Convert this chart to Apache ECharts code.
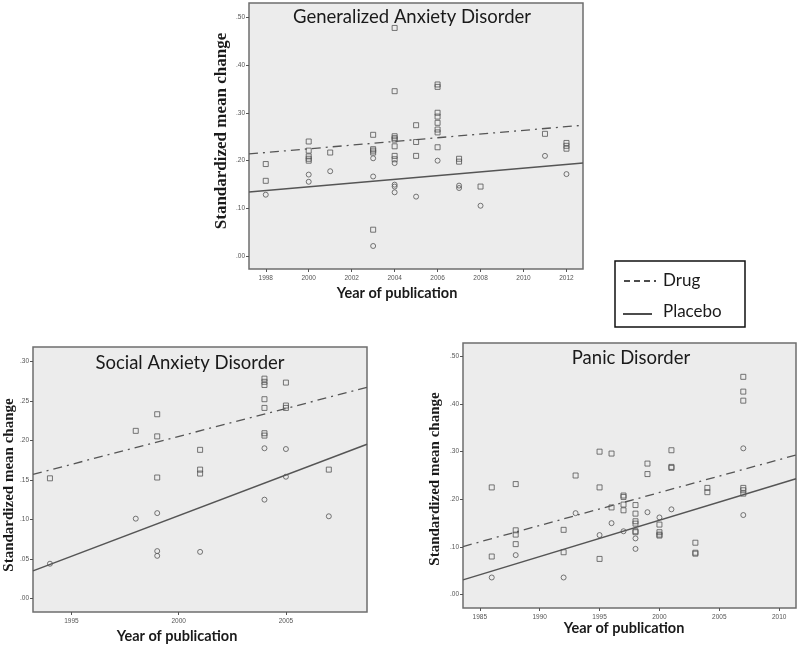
<!DOCTYPE html>
<html>
<head>
<meta charset="utf-8">
<script src="https://cdn.jsdelivr.net/npm/echarts@6/dist/echarts.min.js"></script>
<style>html,body{margin:0;padding:0;background:#fff}#c{width:800px;height:646px}</style>
</head>
<body>
<div id="c"></div>
<script>
// ---------- DATA ----------
const titles = ['Generalized Anxiety Disorder', 'Social Anxiety Disorder', 'Panic Disorder'];
const yAxisTitle = 'Standardized mean change';
const xAxisTitle = 'Year of publication';
const legendLabels = ['Drug', 'Placebo'];

// Generalized Anxiety Disorder
const gadDrug = [
  [1998,0.193],[1998,0.158],
  [2000,0.240],[2000,0.221],[2000,0.209],[2000,0.204],[2000,0.200],
  [2001,0.217],
  [2003,0.254],[2003,0.224],[2003,0.221],[2003,0.217],[2003,0.056],
  [2004,0.477],[2004,0.345],[2004,0.251],[2004,0.247],[2004,0.244],[2004,0.230],[2004,0.210],[2004,0.203],
  [2005,0.274],[2005,0.239],[2005,0.210],
  [2006,0.359],[2006,0.354],[2006,0.300],[2006,0.292],[2006,0.279],[2006,0.265],[2006,0.259],[2006,0.228],
  [2007,0.204],[2007,0.198],
  [2008,0.146],
  [2011,0.256],
  [2012,0.237],[2012,0.231],[2012,0.225]
];
const gadPlacebo = [
  [1998,0.129],
  [2000,0.171],[2000,0.156],
  [2001,0.178],
  [2003,0.205],[2003,0.167],[2003,0.022],
  [2004,0.195],[2004,0.150],[2004,0.146],[2004,0.134],
  [2005,0.125],
  [2006,0.200],
  [2007,0.148],[2007,0.143],
  [2008,0.106],
  [2011,0.210],
  [2012,0.172]
];
const gadDrugFit = [[1997.22,0.214],[2012.77,0.274]];
const gadPlaceboFit = [[1997.22,0.1345],[2012.77,0.195]];
const gadXTicks = [1998,2000,2002,2004,2006,2008,2010,2012];
const gadYTicks = [0,0.1,0.2,0.3,0.4,0.5];

// Social Anxiety Disorder
const sadDrug = [
  [1994,0.152],
  [1998,0.212],
  [1999,0.233],[1999,0.205],[1999,0.153],
  [2001,0.188],[2001,0.163],[2001,0.158],
  [2004,0.278],[2004,0.274],[2004,0.270],[2004,0.252],[2004,0.241],[2004,0.209],[2004,0.206],
  [2005,0.273],[2005,0.244],[2005,0.241],
  [2007,0.163]
];
const sadPlacebo = [
  [1994,0.044],
  [1998,0.101],
  [1999,0.108],[1999,0.060],[1999,0.054],
  [2001,0.059],
  [2004,0.190],[2004,0.125],
  [2005,0.189],[2005,0.154],
  [2007,0.104]
];
const sadDrugFit = [[1993.21,0.157],[2008.78,0.267]];
const sadPlaceboFit = [[1993.21,0.035],[2008.78,0.195]];
const sadXTicks = [1995,2000,2005];
const sadYTicks = [0,0.05,0.1,0.15,0.2,0.25,0.3];

// Panic Disorder
const pdDrug = [
  [1986,0.225],[1986,0.080],
  [1988,0.232],[1988,0.135],[1988,0.126],[1988,0.106],
  [1992,0.136],[1992,0.089],
  [1993,0.250],
  [1995,0.300],[1995,0.225],[1995,0.075],
  [1996,0.296],[1996,0.183],
  [1997,0.208],[1997,0.205],[1997,0.189],[1997,0.177],
  [1998,0.188],[1998,0.170],[1998,0.154],[1998,0.149],[1998,0.133],[1998,0.131],
  [1999,0.275],[1999,0.253],
  [2000,0.147],[2000,0.131],[2000,0.126],[2000,0.124],
  [2001,0.303],[2001,0.268],[2001,0.266],
  [2003,0.109],[2003,0.088],[2003,0.086],
  [2004,0.224],[2004,0.215],
  [2007,0.457],[2007,0.426],[2007,0.407],[2007,0.224],[2007,0.219],[2007,0.212]
];
const pdPlacebo = [
  [1986,0.036],
  [1988,0.083],
  [1992,0.036],
  [1993,0.171],
  [1995,0.125],
  [1996,0.150],
  [1997,0.133],
  [1998,0.118],[1998,0.096],
  [1999,0.173],
  [2000,0.162],
  [2001,0.179],
  [2007,0.307],[2007,0.167]
];
const pdDrugFit = [[1983.6,0.101],[2011.4,0.293]];
const pdPlaceboFit = [[1983.6,0.031],[2011.4,0.243]];
const pdXTicks = [1985,1990,1995,2000,2005,2010];
const pdYTicks = [0,0.1,0.2,0.3,0.4,0.5];

// ---------- CHART ----------
const panels = [
  {grid:{left:249,top:3,width:334,height:266}, x:[1997.22,2012.77], y:[-0.026,0.529], xt:gadXTicks, yt:gadYTicks, drug:gadDrug, plac:gadPlacebo, df:gadDrugFit, pf:gadPlaceboFit},
  {grid:{left:33,top:347,width:334,height:265}, x:[1993.21,2008.78], y:[-0.017,0.318], xt:sadXTicks, yt:sadYTicks, drug:sadDrug, plac:sadPlacebo, df:sadDrugFit, pf:sadPlaceboFit},
  {grid:{left:463,top:343,width:333,height:265}, x:[1983.6,2011.4], y:[-0.028,0.528], xt:pdXTicks, yt:pdYTicks, drug:pdDrug, plac:pdPlacebo, df:pdDrugFit, pf:pdPlaceboFit}
];

const fmtY = v => { const s = (Math.round(v*100)/100).toFixed(2); return s.replace(/^0/, ''); };
const tickStyle = {color:'#555', fontSize:6.5, fontFamily:'Liberation Sans'};

const grids = [], xAxes = [], yAxes = [], series = [];
panels.forEach((p, i) => {
  grids.push(Object.assign({show:true, backgroundColor:'#ececec', borderColor:'#6e6e6e', borderWidth:1.5, containLabel:false}, p.grid));
  xAxes.push({type:'value', gridIndex:i, position:'bottom', min:p.x[0], max:p.x[1], splitLine:{show:false},
    axisLine:{show:false, onZero:false},
    axisTick:{show:true, length:3, lineStyle:{color:'#555'}, customValues:p.xt},
    axisLabel:{show:true, margin:6, customValues:p.xt, formatter:v=>String(Math.round(v)), ...tickStyle}});
  yAxes.push({type:'value', gridIndex:i, position:'left', min:p.y[0], max:p.y[1], splitLine:{show:false},
    axisLine:{show:false, onZero:false},
    axisTick:{show:true, length:3, lineStyle:{color:'#555'}, customValues:p.yt},
    axisLabel:{show:true, margin:4, customValues:p.yt, formatter:fmtY, ...tickStyle}});
  const sym = {color:'rgba(0,0,0,0)', borderColor:'#555', borderWidth:1};
  series.push({type:'scatter', xAxisIndex:i, yAxisIndex:i, data:p.drug, symbol:'rect', symbolSize:5, itemStyle:sym, silent:true, z:3});
  series.push({type:'scatter', xAxisIndex:i, yAxisIndex:i, data:p.plac, symbol:'circle', symbolSize:5, itemStyle:sym, silent:true, z:3});
  series.push({type:'line', xAxisIndex:i, yAxisIndex:i, data:p.df, symbol:'none', silent:true, z:2,
    lineStyle:{color:'#555', width:1.3, type:[9,5,2,5]}});
  series.push({type:'line', xAxisIndex:i, yAxisIndex:i, data:p.pf, symbol:'none', silent:true, z:2,
    lineStyle:{color:'#555', width:1.5, type:'solid'}});
});

const titleFont = {fontFamily:'Lato', fontSize:18.5, fill:'#1a1a1a'};
const yNameFont = {fontFamily:'Liberation Serif', fontWeight:'bold', fill:'#1a1a1a'};
const xNameFont = {fontFamily:'Lato', fontWeight:'bold', fontSize:14.5, fill:'#1a1a1a'};

const graphic = [
  {type:'text', x:412, y:17, style:Object.assign({text:titles[0], align:'center', verticalAlign:'middle'}, titleFont), z:10},
  {type:'text', x:190, y:363, style:Object.assign({text:titles[1], align:'center', verticalAlign:'middle'}, titleFont), z:10},
  {type:'text', x:631, y:358, style:Object.assign({text:titles[2], align:'center', verticalAlign:'middle'}, titleFont), z:10},
  {type:'text', x:222, y:131, rotation:Math.PI/2, style:Object.assign({text:yAxisTitle, align:'center', verticalAlign:'middle', fontSize:17}, yNameFont)},
  {type:'text', x:9, y:485, rotation:Math.PI/2, style:Object.assign({text:yAxisTitle, align:'center', verticalAlign:'middle', fontSize:15}, yNameFont)},
  {type:'text', x:435, y:479, rotation:Math.PI/2, style:Object.assign({text:yAxisTitle, align:'center', verticalAlign:'middle', fontSize:15}, yNameFont)},
  {type:'text', x:397, y:293, style:Object.assign({text:xAxisTitle, align:'center', verticalAlign:'middle'}, xNameFont)},
  {type:'text', x:177, y:636, style:Object.assign({text:xAxisTitle, align:'center', verticalAlign:'middle'}, xNameFont)},
  {type:'text', x:624, y:628, style:Object.assign({text:xAxisTitle, align:'center', verticalAlign:'middle'}, xNameFont)},
  // legend box
  {type:'rect', shape:{x:615, y:261, width:130, height:66}, style:{fill:'#fff', stroke:'#111', lineWidth:1.5}},
  {type:'line', shape:{x1:624, y1:281, x2:656, y2:281}, style:{stroke:'#111', lineWidth:1.5, lineDash:[6,4]}},
  {type:'text', x:663, y:281, style:{text:legendLabels[0], fontFamily:'Lato', fontSize:17, fill:'#1a1a1a', verticalAlign:'middle'}},
  {type:'line', shape:{x1:623, y1:314, x2:652, y2:314}, style:{stroke:'#111', lineWidth:1.5}},
  {type:'text', x:663, y:312, style:{text:legendLabels[1], fontFamily:'Lato', fontSize:17, fill:'#1a1a1a', verticalAlign:'middle'}}
];

const chart = echarts.init(document.getElementById('c'), null, {renderer:'canvas'});
chart.setOption({animation:false, backgroundColor:'#fff', grid:grids, xAxis:xAxes, yAxis:yAxes, series:series, graphic:graphic});
</script>
</body>
</html>
